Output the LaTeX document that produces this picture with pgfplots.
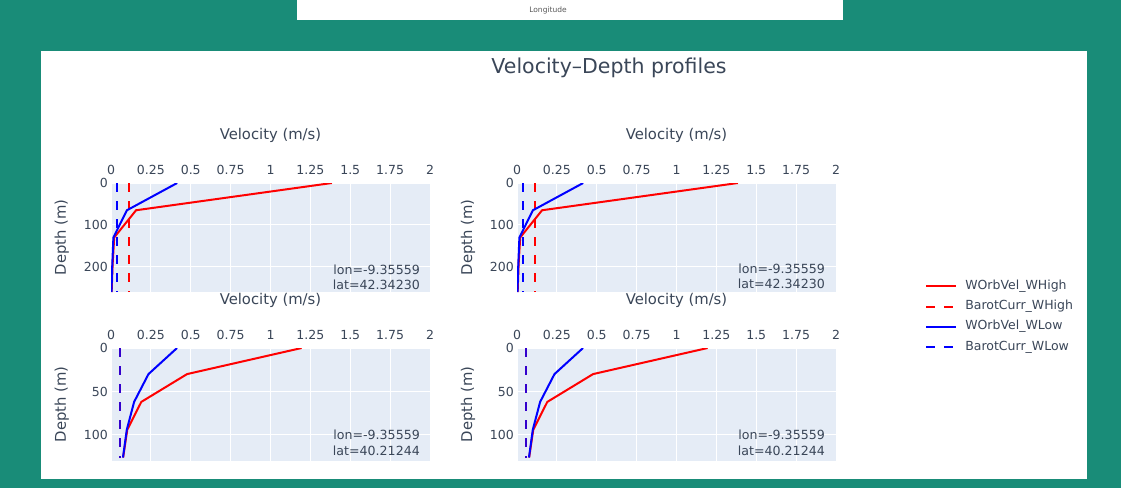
\documentclass[border=0pt]{standalone}
\usepackage{pgfplots}
\usepackage{pgfplotstable}
\pgfplotsset{compat=1.18}
\usepackage{fontspec}
\setmainfont{DejaVu Sans}
\definecolor{teal0}{RGB}{25,140,120}
\definecolor{plotbg}{HTML}{E5ECF6}
\definecolor{txt}{HTML}{3A4658}

% North site: lon=-9.35559, lat=42.34230
\pgfplotstableread{
d orbH orbL
0 1.385 0.415
65 0.157 0.100
130 0.020 0.015
195 0.010 0.008
260 0.004 0.003
}\northOrb
\pgfplotstableread{
d barH barL
0 0.115 0.040
260 0.115 0.040
}\northBar
% South site: lon=-9.35559, lat=40.21244
\pgfplotstableread{
d orbH orbL
0 1.195 0.414
30 0.477 0.235
62 0.190 0.145
94 0.102 0.099
126 0.076 0.075
}\southOrb
\pgfplotstableread{
d barH barL
0 0.057 0.055
126 0.057 0.055
}\southBar

\pgfplotsset{
  prof/.style={
    scale only axis, width=319bp,
    xmin=0, xmax=2, ymin=0, y dir=reverse,
    xtick={0,0.25,0.5,0.75,1,1.25,1.5,1.75,2},
    xticklabels={0,0.25,0.5,0.75,1,1.25,1.5,1.75,2},
    xticklabel pos=upper,
    axis line style={draw=none},
    major tick length=0pt,
    grid=major, major grid style={white, line width=1bp},
    axis background/.style={fill=plotbg},
    tick label style={font=\fontsize{12.5bp}{14bp}\selectfont, text=txt},
    xticklabel style={anchor=base, inner sep=0pt, yshift=9bp},
    yticklabel style={anchor=east, inner sep=0pt, xshift=-3bp},
    /pgf/number format/assume math mode=true,
  },
  north/.style={prof, height=109bp, ymax=260, ytick={0,100,200}},
  south/.style={prof, height=113bp, ymax=130, ytick={0,50,100}},
  hs/.style={red, line width=2bp},
  hd/.style={red, line width=2bp, dash pattern=on 9bp off 9bp},
  ls/.style={blue, line width=2bp},
  ld/.style={blue, line width=2bp, dash pattern=on 9bp off 9bp},
}

\begin{document}
\begin{tikzpicture}
\fill[teal0] (0,0) rectangle (1121bp,-488bp);
\useasboundingbox (0,0) rectangle (1121bp,-488bp);
\fill[white] (297bp,0) rectangle (843bp,-20bp);
\node[font=\fontsize{7.5bp}{9bp}\selectfont, text=black!65] at (548bp,-10bp) {Longitude};
\fill[white] (41bp,-51bp) rectangle (1087bp,-479bp);

\node[font=\fontsize{20.5bp}{24bp}\selectfont, text=txt] at (609bp,-68bp) {Velocity–Depth profiles};

% top-left
\begin{axis}[north, at={(111bp,-183bp)}, anchor=north west,
  legend style={at={(axis description cs:2.552,0.11)}, anchor=north west, draw=none, fill=none,
    font=\fontsize{12.5bp}{14bp}\selectfont, text=txt, inner sep=0pt, row sep=8.3bp,
    nodes={inner sep=0pt, text height=9bp, text depth=3bp},
    /tikz/every odd column/.append style={column sep=8bp}},
  legend cell align=left,
  legend image code/.code={\draw[#1] (0bp,0bp) -- (30bp,0bp);}]
\addplot[hs] table[x=orbH, y=d] {\northOrb};
\addplot[hd] table[x=barH, y=d] {\northBar};
\addplot[ls] table[x=orbL, y=d] {\northOrb};
\addplot[ld] table[x=barL, y=d] {\northBar};
\legend{WOrbVel\_WHigh, BarotCurr\_WHigh, WOrbVel\_WLow, BarotCurr\_WLow}
\end{axis}

% top-right
\begin{axis}[north, at={(517bp,-183bp)}, anchor=north west]
\addplot[hs] table[x=orbH, y=d] {\northOrb};
\addplot[hd] table[x=barH, y=d] {\northBar};
\addplot[ls] table[x=orbL, y=d] {\northOrb};
\addplot[ld] table[x=barL, y=d] {\northBar};
\end{axis}

% bottom-left
\begin{axis}[south, at={(111bp,-348bp)}, anchor=north west]
\addplot[hs] table[x=orbH, y=d] {\southOrb};
\addplot[hd] table[x=barH, y=d] {\southBar};
\addplot[ls] table[x=orbL, y=d] {\southOrb};
\addplot[ld, opacity=0.8] table[x=barL, y=d] {\southBar};
\end{axis}

% bottom-right
\begin{axis}[south, at={(517bp,-348bp)}, anchor=north west]
\addplot[hs] table[x=orbH, y=d] {\southOrb};
\addplot[hd] table[x=barH, y=d] {\southBar};
\addplot[ls] table[x=orbL, y=d] {\southOrb};
\addplot[ld, opacity=0.8] table[x=barL, y=d] {\southBar};
\end{axis}

% axis titles
\begin{scope}[every node/.style={font=\fontsize{14.8bp}{17bp}\selectfont, text=txt}]
\node at (270.5bp,-135bp) {Velocity (m/s)};
\node at (676.5bp,-135bp) {Velocity (m/s)};
\node at (270.5bp,-300bp) {Velocity (m/s)};
\node at (676.5bp,-300bp) {Velocity (m/s)};
\node[rotate=90] at (61.7bp,-237.5bp) {Depth (m)};
\node[rotate=90] at (468bp,-237.5bp) {Depth (m)};
\node[rotate=90] at (61.7bp,-404.5bp) {Depth (m)};
\node[rotate=90] at (468bp,-404.5bp) {Depth (m)};
\end{scope}

% annotations
\begin{scope}[every node/.style={font=\fontsize{12.6bp}{14bp}\selectfont, text=txt, anchor=base east, inner sep=0pt}]
\node at (420bp,-274bp) {lon=-9.35559};
\node at (420bp,-289bp) {lat=42.34230};
\node at (825bp,-273bp) {lon=-9.35559};
\node at (825bp,-288bp) {lat=42.34230};
\node at (420bp,-439.5bp) {lon=-9.35559};
\node at (420bp,-455bp) {lat=40.21244};
\node at (825bp,-439.5bp) {lon=-9.35559};
\node at (825bp,-455bp) {lat=40.21244};
\end{scope}
\end{tikzpicture}
\end{document}
